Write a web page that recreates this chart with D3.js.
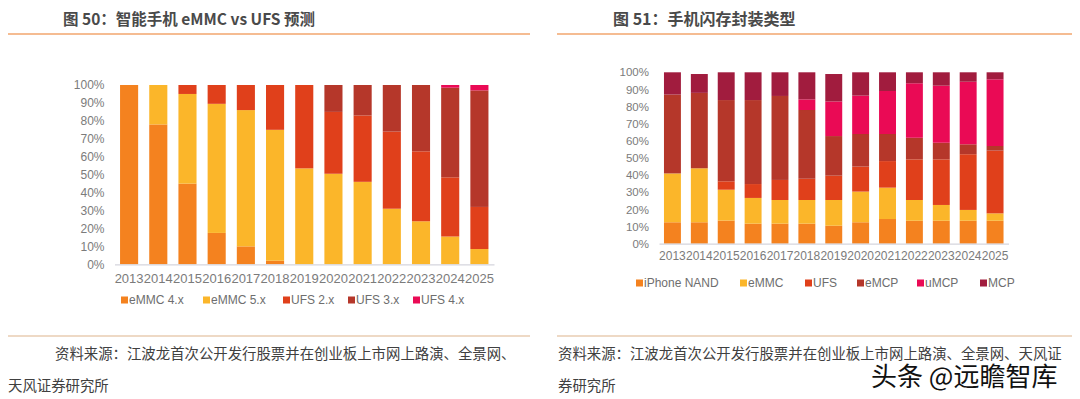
<!DOCTYPE html>
<html>
<head>
<meta charset="utf-8">
<script src="https://cdn.jsdelivr.net/npm/d3@7"></script>
<style>
  body { margin: 0; background: #fff; }
  svg { display: block; }
</style>
</head>
<body>
<div id="chart"></div>
<script>
// left panel: eMMC vs UFS
const yearsLeft = ['2013', '2014', '2015', '2016', '2017', '2018', '2019', '2020', '2021', '2022', '2023', '2024', '2025'];
const emmc4x = [100, 78, 45, 17.5, 10, 2, 0, 0, 0, 0, 0, 0, 0];
const emmc5x = [0, 22, 50, 72, 76, 73, 53.5, 50.5, 46, 31, 24, 15.5, 8.5];
const ufs2x = [0, 0, 5, 10.5, 14, 25, 46.5, 34.5, 37, 43, 39, 33, 23.5];
const ufs3x = [0, 0, 0, 0, 0, 0, 0, 15, 17, 26, 37, 50, 65];
const ufs4x = [0, 0, 0, 0, 0, 0, 0, 0, 0, 0, 0, 1.5, 3];
const leftSeries = ['eMMC 4.x', 'eMMC 5.x', 'UFS 2.x', 'UFS 3.x', 'UFS 4.x'];

// right panel: package types
const yearsRight = ['2013', '2014', '2015', '2016', '2017', '2018', '2019', '2020', '2021', '2022', '2023', '2024', '2025'];
const iphoneNand = [12.5, 12.5, 13.5, 11.7, 11.7, 11.7, 10.5, 12.5, 14.4, 13.4, 13.4, 13.4, 13.4];
const emmc = [28.5, 31.5, 18, 15, 13.8, 13.8, 15, 17.9, 18.3, 12.1, 9.2, 6.3, 4.3];
const ufs = [0, 0, 4.9, 8.1, 11.7, 12.4, 14.2, 14.6, 15.5, 23.7, 26.6, 32.5, 36.6];
const emcp = [46, 44, 47.4, 49, 49, 40.1, 23.1, 19, 15.8, 12.6, 9.7, 5.8, 2.7];
const umcp = [0, 0, 0, 0, 0, 6.2, 20.2, 22.4, 25.1, 31.8, 33.3, 36.5, 38.9];
const mcp = [13, 11, 16.2, 16.2, 13.8, 15.8, 16, 13.6, 10.9, 6.4, 7.8, 5.5, 4.1];
const rightSeries = ['iPhone NAND', 'eMMC', 'UFS', 'eMCP', 'uMCP', 'MCP'];

const yTicks = [0, 10, 20, 30, 40, 50, 60, 70, 80, 90, 100];
const palette = ['#f4821f', '#fbb62a', '#e0401b', '#b5372a', '#ea0a55', '#a11c3e'];

const W = 1080, H = 399;
const svg = d3.select('#chart').append('svg')
  .attr('width', W)
  .attr('height', H);

const cjk = '"Noto Sans CJK SC", "Noto Sans", sans-serif';
const latin = '"Liberation Sans", Arial, sans-serif';
const tickGray = '#7b7b7b';

function toRows(years, cols, names) {
  return years.map((y, i) => {
    const row = { year: y };
    names.forEach((n, k) => { row[n] = cols[k][i]; });
    return row;
  });
}

function drawPanel(opt) {
  const rows = toRows(opt.years, opt.cols, opt.names);
  const stacked = d3.stack().keys(opt.names)(rows);

  const x = d3.scaleBand()
    .domain(opt.years)
    .range(opt.xRange)
    .paddingInner(opt.pad)
    .paddingOuter(opt.pad / 2);
  const y = d3.scaleLinear().domain([0, 100]).range(opt.yRange);

  const g = svg.append('g');

  g.selectAll('.layer')
    .data(stacked)
    .enter().append('g')
    .attr('fill', (d, i) => palette[i])
    .selectAll('rect')
    .data(d => d)
    .enter().append('rect')
    .attr('x', d => x(d.data.year))
    .attr('width', x.bandwidth())
    .attr('y', d => y(d[1]))
    .attr('height', d => Math.max(0, y(d[0]) - y(d[1])));

  const xAxis = g.append('g')
    .attr('transform', `translate(0,${opt.yRange[0]})`)
    .call(d3.axisBottom(x).tickSize(0).tickPadding(opt.xPad).tickSizeOuter(0));
  xAxis.select('.domain').attr('stroke', '#d5d5dd').attr('stroke-width', 1.2);
  xAxis.selectAll('text')
    .style('font-family', latin)
    .style('font-size', opt.xFont + 'px')
    .attr('fill', tickGray);

  const yAxis = g.append('g')
    .attr('transform', `translate(${opt.xRange[0]},0)`)
    .call(d3.axisLeft(y).tickValues(yTicks).tickSize(0).tickPadding(10).tickFormat(d => d + '%'));
  yAxis.select('.domain').remove();
  yAxis.selectAll('text')
    .style('font-family', latin)
    .style('font-size', opt.yFont + 'px')
    .attr('fill', tickGray);

  // legend
  const lg = g.append('g').attr('transform', `translate(0,${opt.legendY})`);
  opt.names.forEach((n, i) => {
    const item = lg.append('g').attr('transform', `translate(${opt.legendX[i]},0)`);
    item.append('rect')
      .attr('x', 0).attr('y', -3.5)
      .attr('width', 7).attr('height', 7)
      .attr('fill', palette[i]);
    item.append('text')
      .attr('x', 8)
      .attr('dy', '0.35em')
      .style('font-family', latin)
      .style('font-size', '12px')
      .attr('fill', '#6e6e6e')
      .text(n);
  });
}

drawPanel({
  years: yearsLeft,
  cols: [emmc4x, emmc5x, ufs2x, ufs3x, ufs4x],
  names: leftSeries,
  xRange: [114.5, 494],
  yRange: [264.3, 85],
  pad: 0.38,
  xPad: 9,
  xFont: 13,
  yFont: 12,
  legendY: 300,
  legendX: [121, 203, 283, 348, 413]
});

drawPanel({
  years: yearsRight,
  cols: [iphoneNand, emmc, ufs, emcp, umcp, mcp],
  names: rightSeries,
  xRange: [659, 1008.5],
  yRange: [243.7, 72.3],
  pad: 0.37,
  xPad: 8,
  xFont: 12,
  yFont: 11.5,
  legendY: 283,
  legendX: [636, 740, 805, 857, 917, 980]
});

// titles and rules
const titles = [
  { x: 63, size: 15.5, text: '图 50：智能手机 eMMC vs UFS 预测' },
  { x: 613, size: 16, text: '图 51：手机闪存封装类型' }
];
titles.forEach(t => {
  svg.append('text')
    .attr('x', t.x).attr('y', 25)
    .style('font-family', cjk)
    .style('font-size', t.size + 'px')
    .style('font-weight', 'bold')
    .attr('fill', '#4a4a4a')
    .text(t.text);
});

[[8, 530], [557, 1072]].forEach(([a, b]) => {
  svg.append('line')
    .attr('x1', a).attr('x2', b)
    .attr('y1', 34).attr('y2', 34)
    .attr('stroke', '#f2a66e').attr('stroke-width', 1.5);
  svg.append('line')
    .attr('x1', a).attr('x2', b)
    .attr('y1', 336).attr('y2', 336)
    .attr('stroke', '#e8cdb2').attr('stroke-width', 1.5);
});

// source notes
const notes = [
  { x: 55, y: 359, text: '资料来源：江波龙首次公开发行股票并在创业板上市网上路演、全景网、' },
  { x: 8, y: 391, text: '天风证券研究所' },
  { x: 558, y: 359, text: '资料来源：江波龙首次公开发行股票并在创业板上市网上路演、全景网、天风证' },
  { x: 558, y: 391, text: '券研究所' }
];
notes.forEach(n => {
  svg.append('text')
    .attr('x', n.x).attr('y', n.y)
    .style('font-family', cjk)
    .style('font-size', '14.4px')
    .attr('fill', '#404040')
    .text(n.text);
});

// watermark
svg.append('text')
  .attr('x', 871).attr('y', 386)
  .style('font-family', cjk)
  .style('font-size', '26px')
  .attr('fill', '#111')
  .attr('stroke', '#fff')
  .attr('stroke-width', 2.5)
  .attr('paint-order', 'stroke')
  .text('头条 @远瞻智库');
</script>
</body>
</html>
